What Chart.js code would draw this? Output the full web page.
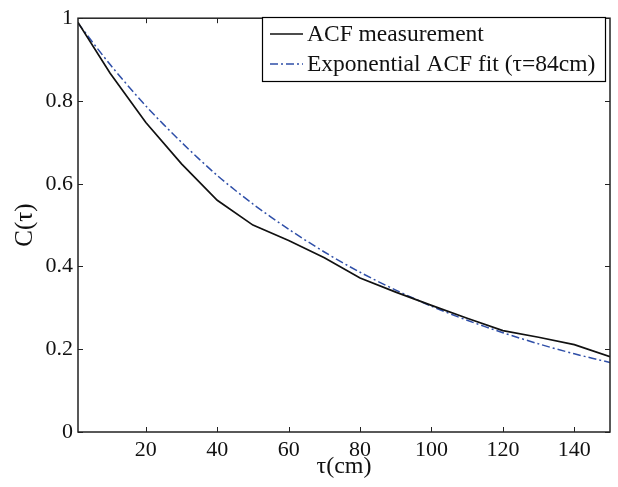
<!DOCTYPE html>
<html>
<head>
<meta charset="utf-8">
<script src="https://cdn.jsdelivr.net/npm/chart.js@4.4.0/dist/chart.umd.min.js"></script>
<style>
  body { margin: 0; background: #fff; }
</style>
</head>
<body>
<canvas id="grafica" width="618" height="487"></canvas>
<script>
// lags in cm
const lags = [1, 10, 20, 30, 40, 50, 60, 70, 80, 90, 100, 110, 120, 130, 140, 150];
// measured ACF (black line)
const acfMeasured = [0.99, 0.867, 0.748, 0.648, 0.56, 0.50, 0.463, 0.421, 0.372, 0.338, 0.306, 0.275, 0.245, 0.229, 0.211, 0.182];
// exponential fit (blue dash-dot)
const acfFit = [0.988, 0.888, 0.788, 0.70, 0.62, 0.551, 0.49, 0.435, 0.386, 0.343, 0.304, 0.27, 0.24, 0.213, 0.189, 0.168];
const xTicks = [20, 40, 60, 80, 100, 120, 140];
const yTicks = [0, 0.2, 0.4, 0.6, 0.8, 1];
const seriesNames = ['ACF measurement', 'Exponential ACF fit (\u03c4=84cm)'];

const fuente = '"Liberation Serif", "Times New Roman", serif';
const azul = '#2f4fa8';

function puntos(vals) {
  return lags.map(function (l, i) { return { x: l, y: vals[i] }; });
}

// caja, ticks hacia adentro y leyenda
const marco = {
  id: 'marco',
  afterDraw(chart) {
    const ctx = chart.ctx;
    const a = chart.chartArea;
    const sx = chart.scales.x, sy = chart.scales.y;
    ctx.save();
    ctx.strokeStyle = '#222';
    ctx.lineWidth = 1.5;
    ctx.strokeRect(a.left, a.top, a.right - a.left, a.bottom - a.top);
    ctx.lineWidth = 1;
    const t = 5;
    xTicks.forEach(function (v) {
      const px = Math.round(sx.getPixelForValue(v)) + 0.5;
      ctx.beginPath();
      ctx.moveTo(px, a.bottom); ctx.lineTo(px, a.bottom - t);
      ctx.moveTo(px, a.top); ctx.lineTo(px, a.top + t);
      ctx.stroke();
    });
    yTicks.forEach(function (v) {
      const py = Math.round(sy.getPixelForValue(v)) + 0.5;
      ctx.beginPath();
      ctx.moveTo(a.left, py); ctx.lineTo(a.left + t, py);
      ctx.moveTo(a.right, py); ctx.lineTo(a.right - t, py);
      ctx.stroke();
    });

    // leyenda
    const lx = 262, ly = 17, lw = 343, lh = 64;
    ctx.fillStyle = '#fff';
    ctx.fillRect(lx, ly, lw, lh);
    ctx.strokeStyle = '#000';
    ctx.lineWidth = 1.2;
    ctx.strokeRect(lx + 0.5, ly + 0.5, lw, lh);
    ctx.font = '23.5px ' + fuente;
    ctx.textBaseline = 'middle';
    ctx.fillStyle = '#111';
    chart.data.datasets.forEach(function (ds, i) {
      const yy = ly + 17 + i * 30;
      ctx.strokeStyle = ds.borderColor;
      ctx.lineWidth = ds.borderWidth;
      ctx.setLineDash(ds.borderDash || []);
      ctx.beginPath();
      ctx.moveTo(lx + 8, yy); ctx.lineTo(lx + 41, yy);
      ctx.stroke();
      ctx.setLineDash([]);
      ctx.fillText(ds.label, lx + 45, yy + 1);
    });
    ctx.restore();
  }
};

const ctx = document.getElementById('grafica').getContext('2d');
const grafica = new Chart(ctx, {
  type: 'line',
  data: {
    datasets: [{
      label: seriesNames[0],
      data: puntos(acfMeasured),
      borderColor: '#111',
      borderWidth: 1.7,
      pointRadius: 0,
      tension: 0
    }, {
      label: seriesNames[1],
      data: puntos(acfFit),
      borderColor: azul,
      borderWidth: 1.5,
      borderDash: [8, 3, 2, 3],
      pointRadius: 0,
      tension: 0.3
    }]
  },
  options: {
    responsive: false,
    animation: false,
    devicePixelRatio: 1,
    layout: { padding: { left: 0, top: 12, right: 8, bottom: 0 } },
    plugins: { legend: { display: false }, tooltip: { enabled: false } },
    scales: {
      x: {
        type: 'linear',
        min: 1, max: 150,
        afterBuildTicks: function (s) { s.ticks = xTicks.map(function (v) { return { value: v }; }); },
        afterFit: function (s) { s.height = 55; },
        grid: { display: false, drawTicks: false },
        border: { display: false },
        ticks: { color: '#111', font: { family: fuente, size: 22 }, padding: 5, maxRotation: 0 },
        title: { display: true, text: '\u03c4(cm)', color: '#111', font: { family: fuente, size: 24 }, padding: { top: 0, bottom: 6 } }
      },
      y: {
        min: 0, max: 1,
        afterBuildTicks: function (s) { s.ticks = yTicks.map(function (v) { return { value: v }; }); },
        afterFit: function (s) { s.width = 78; },
        grid: { display: false, drawTicks: false },
        border: { display: false },
        ticks: { color: '#111', font: { family: fuente, size: 22 }, padding: 5,
          callback: function (v) { return String(v); } },
        title: { display: true, text: 'C(\u03c4)', color: '#111', font: { family: fuente, size: 25 }, padding: { top: 10 } }
      }
    }
  },
  plugins: [marco]
});
</script>
</body>
</html>
